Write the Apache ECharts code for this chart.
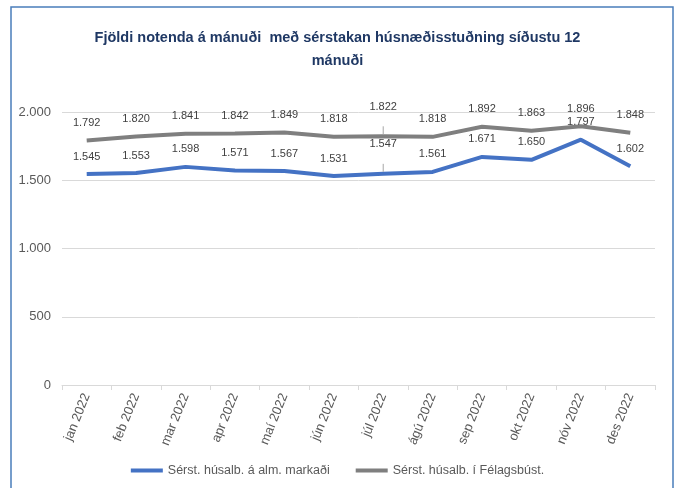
<!DOCTYPE html>
<html>
<head>
<meta charset="utf-8">
<script src="https://cdn.jsdelivr.net/npm/echarts@6/dist/echarts.min.js"></script>
<style>
html,body{margin:0;padding:0;background:#fff;}
#c{width:675px;height:488px;}
</style>
</head>
<body>
<div id="c"></div>
<script>
const categories = ['jan 2022','feb 2022','mar 2022','apr 2022','maí 2022','jún 2022','júl 2022','ágú 2022','sep 2022','okt 2022','nóv 2022','des 2022'];
const almMarkadi = [1545,1553,1598,1571,1567,1531,1547,1561,1671,1650,1797,1602];
const felagsbust = [1792,1820,1841,1842,1849,1818,1822,1818,1892,1863,1896,1848];
const seriesNames = ['Sérst. húsalb. á alm. markaði','Sérst. húsalb. í Félagsbúst.'];
const titleText = 'Fjöldi notenda á mánuði  með sérstakan húsnæðisstuðning síðustu 12\nmánuði';

const fmt = v => {
  const n = (v && typeof v === 'object') ? v.value : v;
  return String(n).replace(/\B(?=(\d{3})+(?!\d))/g, '.');
};
const raised = 6; // júl labels raised with leader line

function mkData(arr){
  return arr.map((v,i)=> i===raised ? {value:v, label:{distance:24}} : v);
}

const labelStyle = {show:true, position:'top', distance:12, formatter:fmt, fontFamily:'Liberation Sans', fontSize:11, color:'#404040'};

const chart = echarts.init(document.getElementById('c'), null, {renderer:'canvas'});
chart.setOption({
  backgroundColor:'#fff',
  animation:false,
  title:{
    text:titleText, left:'center', top:21,
    textStyle:{fontFamily:'Liberation Sans', fontWeight:'bold', fontSize:14.5, color:'#1F3864', lineHeight:23}
  },
  graphic:[
    {type:'rect', shape:{x:11,y:7,width:662,height:500}, style:{fill:'none', stroke:'#4A7EBB', lineWidth:1.5}, z:-1}
  ],
  grid:{left:62,right:20,top:112,bottom:103},
  legend:{
    bottom:6, left:'center', itemWidth:32, itemHeight:4, itemGap:26,
    icon:'rect',
    textStyle:{fontFamily:'Liberation Sans', fontSize:12.5, color:'#595959'},
    data:seriesNames
  },
  xAxis:{
    type:'category', data:categories, boundaryGap:true,
    axisLine:{lineStyle:{color:'#D9D9D9'}},
    axisTick:{show:true, alignWithLabel:false, length:5, lineStyle:{color:'#D9D9D9'}},
    axisLabel:{rotate:68, fontFamily:'Liberation Sans', fontSize:13, color:'#595959', margin:9, interval:0}
  },
  yAxis:{
    type:'value', min:0, max:2000, interval:500,
    axisLine:{show:false}, axisTick:{show:false},
    splitLine:{lineStyle:{color:'#D9D9D9'}},
    axisLabel:{formatter:fmt, fontFamily:'Liberation Sans', fontSize:13, color:'#595959', margin:11}
  },
  series:[
    {
      name:seriesNames[0], type:'line', data:mkData(almMarkadi), symbol:'circle', symbolSize:0, showSymbol:true,
      lineStyle:{color:'#4472C4', width:4}, itemStyle:{color:'#4472C4'},
      label:labelStyle
    },
    {
      name:seriesNames[1], type:'line', data:mkData(felagsbust), symbol:'circle', symbolSize:0, showSymbol:true,
      lineStyle:{color:'#7F7F7F', width:4}, itemStyle:{color:'#7F7F7F'},
      label:labelStyle
    }
  ]
});

// leader lines for the raised júl labels, positioned through the chart's own scales
const leaders = [almMarkadi, felagsbust].map(arr => {
  const p = chart.convertToPixel({gridIndex:0}, [raised, arr[raised]]);
  return {type:'line', shape:{x1:p[0], y1:p[1]-10, x2:p[0], y2:p[1]-2}, style:{stroke:'#A6A6A6', lineWidth:1}, z:10};
});
chart.setOption({graphic:[
  {type:'rect', shape:{x:11,y:7,width:662,height:500}, style:{fill:'none', stroke:'#4A7EBB', lineWidth:1.5}, z:-1}
].concat(leaders)}, {replaceMerge:['graphic']});
</script>
</body>
</html>
